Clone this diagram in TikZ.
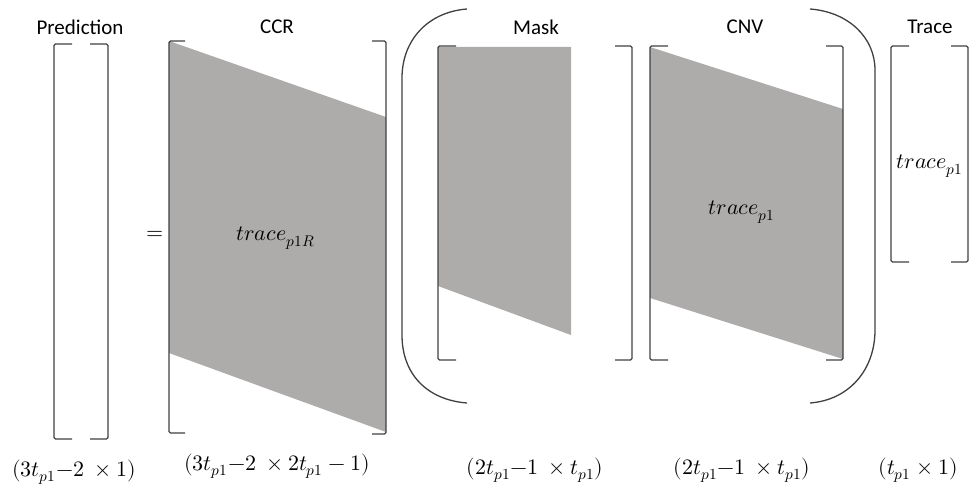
\documentclass[tikz,border=0pt]{standalone}
\usepackage{fontspec}
\setmainfont{Carlito}
\usepackage{unicode-math}
\begin{document}
\begin{tikzpicture}[x=1pt,y=-1pt,
  brk/.style={draw=black!75, line width=1.3pt, rounded corners=1.5pt},
  par/.style={draw=black!75, line width=1.3pt},
  shade/.style={fill=fillgray, draw=none},
  ttl/.style={font=\fontsize{21}{23}\selectfont, inner sep=0pt},
  mth/.style={font=\fontsize{22}{24}\selectfont, inner sep=0pt},
  dim/.style={font=\fontsize{22}{24}\selectfont, inner sep=0pt}]
\definecolor{fillgray}{HTML}{AEABAB}
\useasboundingbox (0,0) rectangle (971,487);
% shaded regions
\fill[shade] (169,41) -- (386,117) -- (386,432) -- (169,353) -- cycle;
\fill[shade] (438,47) -- (571,47) -- (571,335) -- (438,286) -- cycle;
\fill[shade] (650,47) -- (843,109) -- (843,359) -- (650,298) -- cycle;
% Prediction brackets
\draw[brk] (72,44) -- (54,44) -- (54,439) -- (72,439);
\draw[brk] (90,44) -- (108,44) -- (108,439) -- (90,439);
% CCR brackets
\draw[brk] (185,41) -- (169,41) -- (169,433) -- (185,433);
\draw[brk] (372,41) -- (386,41) -- (386,434) -- (372,434);
% Mask brackets
\draw[brk] (456,46) -- (438,46) -- (438,360) -- (456,360);
\draw[brk] (615,46) -- (632,46) -- (632,360) -- (615,360);
% CNV brackets
\draw[brk] (668,46) -- (650,46) -- (650,360) -- (668,360);
\draw[brk] (826,46) -- (843,46) -- (843,360) -- (826,360);
% Trace brackets
\draw[brk] (909,46) -- (891,46) -- (891,262) -- (909,262);
\draw[brk] (951,46) -- (968,46) -- (968,262) -- (951,262);
% big parentheses
\draw[par] (467,9) .. controls (428,12) and (402,40) .. (402,78) -- (402,335) .. controls (402,375) and (428,400) .. (467,403);
\draw[par] (810,9) .. controls (849,12) and (875,38) .. (875,70) -- (875,330) .. controls (875,370) and (849,400) .. (810,403);
% titles
\node[ttl] (tpred) at (80,27) {Prediction};
\node[ttl] (tccr) at (277,27) {CCR};
\node[ttl] (tmask) at (536,27) {Mask};
\node[ttl] (tcnv) at (745,27) {CNV};
\node[ttl] (ttrace) at (930,27) {Trace};
% equals
\node[mth] (eq) at (155,235) {$=$};
% inner labels
\node[mth] (lccr) at (276,238) {$trace_{p1R}$};
\node[mth] (lcnv) at (742,212) {$trace_{p1}$};
\node[mth] (ltrace) at (930,166) {$trace_{p1}$};
% dimension labels
\node[dim] (dpred) at (74,472) {$(3t_{p1}{-}2\ \times 1)$};
\node[dim] (dccr) at (277,466) {$(3t_{p1}{-}2\ \times 2t_{p1}-1)$};
\node[dim] (dmask) at (535,470) {$(2t_{p1}{-}1\ \times t_{p1})$};
\node[dim] (dcnv) at (742,470) {$(2t_{p1}{-}1\ \times t_{p1})$};
\node[dim] (dtrace) at (918,470) {$(t_{p1}\times 1)$};
\end{tikzpicture}
\end{document}
